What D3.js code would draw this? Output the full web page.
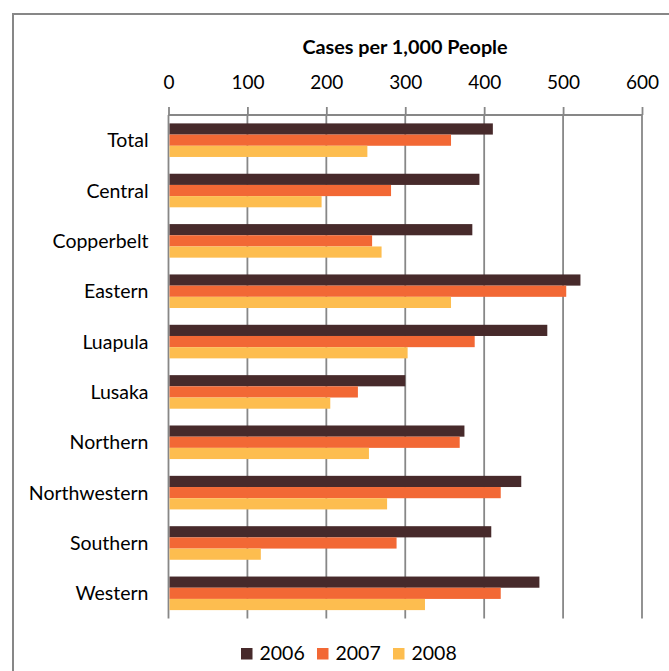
<!DOCTYPE html>
<html>
<head>
<meta charset="utf-8">
<script src="https://cdn.jsdelivr.net/npm/d3@7"></script>
<style>
  html, body { margin: 0; padding: 0; background: #fff; }
  svg { display: block; }
  text { font-family: Lato, "Open Sans", sans-serif; fill: #000; }
</style>
</head>
<body>
<svg id="chart" width="669" height="671"></svg>
<script>
const categories = ["Total", "Central", "Copperbelt", "Eastern", "Luapula", "Lusaka", "Northern", "Northwestern", "Southern", "Western"];
const seriesNames = ["2006", "2007", "2008"];
const values2006 = [411, 394, 385, 522, 480, 300, 375, 447, 409, 470];
const values2007 = [358, 282, 258, 504, 388, 240, 369, 421, 289, 421];
const values2008 = [252, 194, 270, 358, 303, 205, 254, 277, 117, 325];
const tickValues = [0, 100, 200, 300, 400, 500, 600];
const colors = ["#472A2B", "#F26835", "#FDBD4F"];
const titleText = "Cases per 1,000 People";

const seriesValues = [values2006, values2007, values2008];
const svg = d3.select("#chart");

// outer frame (extends past the picture on right and bottom)
svg.append("rect")
  .attr("x", 13).attr("y", 14)
  .attr("width", 700).attr("height", 700)
  .attr("fill", "none").attr("stroke", "#878787").attr("stroke-width", 2);

const x = d3.scaleLinear().domain([0, 600]).range([168.5, 642]);
const y = d3.scaleBand().domain(categories).range([115, 618.5]).paddingInner(1/3).paddingOuter(1/6);
const ySub = d3.scaleBand().domain(seriesNames).range([0, y.bandwidth()]);

const gridColor = "#878787";

// gridlines
svg.append("g").selectAll("line").data(tickValues).join("line")
  .attr("x1", d => x(d)).attr("x2", d => x(d))
  .attr("y1", 115).attr("y2", 618.5)
  .attr("stroke", gridColor).attr("stroke-width", 1.8);

// top axis
const axis = d3.axisTop(x).tickValues(tickValues).tickSize(8).tickPadding(18).tickFormat(d3.format("d"));
const ag = svg.append("g").attr("transform", "translate(0,115)").call(axis);
ag.select(".domain").attr("stroke", gridColor).attr("stroke-width", 1.8).attr("d", `M${x(0)},0H${x(600)}`);
ag.selectAll(".tick line").attr("stroke", gridColor).attr("stroke-width", 1.8);
ag.selectAll(".tick text").attr("font-size", 19).attr("font-family", "Lato").attr("fill", "#000");

// title
svg.append("text")
  .attr("x", 405).attr("y", 53.5)
  .attr("text-anchor", "middle")
  .attr("font-weight", "bold").attr("font-size", 19.8)
  .text(titleText);

// bars
const groups = svg.append("g").selectAll("g").data(seriesNames).join("g")
  .attr("fill", (d, i) => colors[i]);
groups.selectAll("rect")
  .data((s, i) => categories.map((c, j) => ({ c, s, v: seriesValues[i][j] })))
  .join("rect")
  .attr("x", x(0) + 1)
  .attr("y", d => y(d.c) + ySub(d.s))
  .attr("width", d => x(d.v) - x(0) - 1)
  .attr("height", ySub.bandwidth());

// category labels
svg.append("g").selectAll("text").data(categories).join("text")
  .attr("x", 148.5)
  .attr("y", d => y(d) + y.bandwidth() / 2)
  .attr("dy", "0.36em")
  .attr("text-anchor", "end")
  .attr("font-size", 19.5)
  .text(d => d);

// legend
const legend = svg.append("g").attr("transform", "translate(241,0)");
const li = legend.selectAll("g").data(seriesNames).join("g")
  .attr("transform", (d, i) => `translate(${i * 76},0)`);
li.append("rect").attr("x", 0).attr("y", 648).attr("width", 11.5).attr("height", 11.5)
  .attr("fill", (d, i) => colors[i]);
li.append("text").attr("x", 18.5).attr("y", 660).attr("font-size", 19.5).text(d => d);
</script>
</body>
</html>
